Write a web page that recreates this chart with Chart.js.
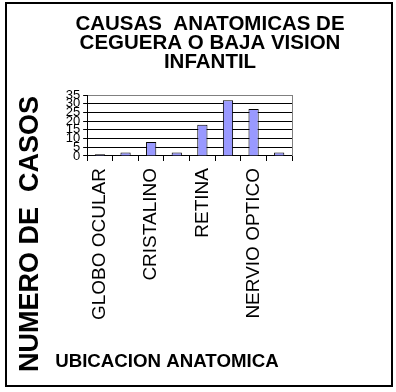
<!DOCTYPE html>
<html>
<head>
<meta charset="utf-8">
<script src="https://cdn.jsdelivr.net/npm/chart.js@4/dist/chart.umd.min.js"></script>
<style>
  html, body { margin: 0; padding: 0; background: #fff; }
  #wrap { position: relative; width: 396px; height: 392px; }
  #frame {
    position: absolute; left: 5px; top: 2px; width: 388px; height: 385px;
    border: 2px solid #000; box-sizing: border-box; pointer-events: none;
  }
</style>
</head>
<body>
<div id="wrap">
  <canvas id="chart" width="396" height="392"></canvas>
  <div id="frame"></div>
</div>
<script>
// Data
const titleLines = ["CAUSAS  ANATOMICAS DE", "CEGUERA O BAJA VISION", "INFANTIL"];
const yTitle = "NUMERO DE  CASOS";
const xTitle = "UBICACION ANATOMICA";
// only every other category name is printed on the axis
const categories = ["GLOBO OCULAR", "", "CRISTALINO", "", "RETINA", "", "NERVIO OPTICO", ""];
const casos = [1, 2, 8, 2, 18, 32, 27, 2];
const yMin = 0;
const yMax = 35;
const yStep = 5;

const FONT = "Arial, 'Liberation Sans', sans-serif";

// The x axis caption sits left of centre and is wider than the plot,
// so the built-in scale title (clipped to the plot width) can't be used.
const xCaption = {
  id: "xCaption",
  afterDraw(chart) {
    const { ctx, chartArea, scales } = chart;
    ctx.save();
    ctx.font = "bold 18.7px " + FONT;
    ctx.fillStyle = "#000";
    ctx.textAlign = "left";
    ctx.textBaseline = "middle";
    ctx.fillText(xTitle, chartArea.left - 32, scales.x.bottom - 10.5);
    ctx.restore();
  },
};

const ctx = document.getElementById("chart").getContext("2d");
new Chart(ctx, {
  type: "bar",
  data: {
    labels: categories,
    datasets: [
      {
        label: "Casos",
        data: casos,
        backgroundColor: "#9999FF",
        borderColor: "#000000",
        borderWidth: 1,
        barPercentage: 0.4,
        categoryPercentage: 1.0,
      },
    ],
  },
  plugins: [xCaption],
  options: {
    responsive: false,
    animation: false,
    layout: {
      padding: { left: 24, right: 0, top: 0, bottom: 20 },
    },
    plugins: {
      legend: { display: false },
      tooltip: { enabled: false },
      title: {
        display: true,
        text: titleLines,
        color: "#000",
        font: { family: FONT, size: 20.5, weight: "bold", lineHeight: 0.915 },
        padding: { top: 15, bottom: 23.75 },
      },
      subtitle: {
        display: true,
        text: yTitle,
        position: "left",
        align: "start",
        color: "#000",
        font: { family: FONT, size: 27, weight: "bold", lineHeight: 0.45 },
        padding: { top: 0, bottom: 14 },
      },
    },
    scales: {
      x: {
        grid: {
          offset: true,
          drawOnChartArea: false,
          drawTicks: true,
          tickLength: 5,
          color: "#000",
        },
        border: { display: true, color: "#000", width: 1 },
        ticks: {
          autoSkip: false,
          minRotation: 90,
          maxRotation: 90,
          padding: 7,
          color: "#000",
          font: { family: FONT, size: 19 },
        },
        title: { display: false },
        afterFit: (scale) => {
          scale.height = 216;
        },
      },
      y: {
        min: yMin,
        max: yMax,
        grid: {
          color: (c) => (c.tick && c.tick.value === yMax ? "#808080" : "#000"),
          tickColor: "#000",
          tickLength: 4,
          lineWidth: 1,
        },
        border: { display: true, color: "#000", width: 1 },
        ticks: {
          stepSize: yStep,
          autoSkip: false,
          padding: 3,
          color: "#000",
          font: { family: FONT, size: 13 },
        },
        afterFit: (scale) => {
          scale.width = 37;
        },
      },
      // right edge of the plot area
      yRight: {
        position: "right",
        min: yMin,
        max: yMax,
        grid: { drawOnChartArea: false, drawTicks: false },
        border: { display: true, color: "#808080", width: 1 },
        ticks: { display: false },
        afterFit: (scale) => {
          scale.width = 104;
        },
      },
    },
  },
});
</script>
</body>
</html>
